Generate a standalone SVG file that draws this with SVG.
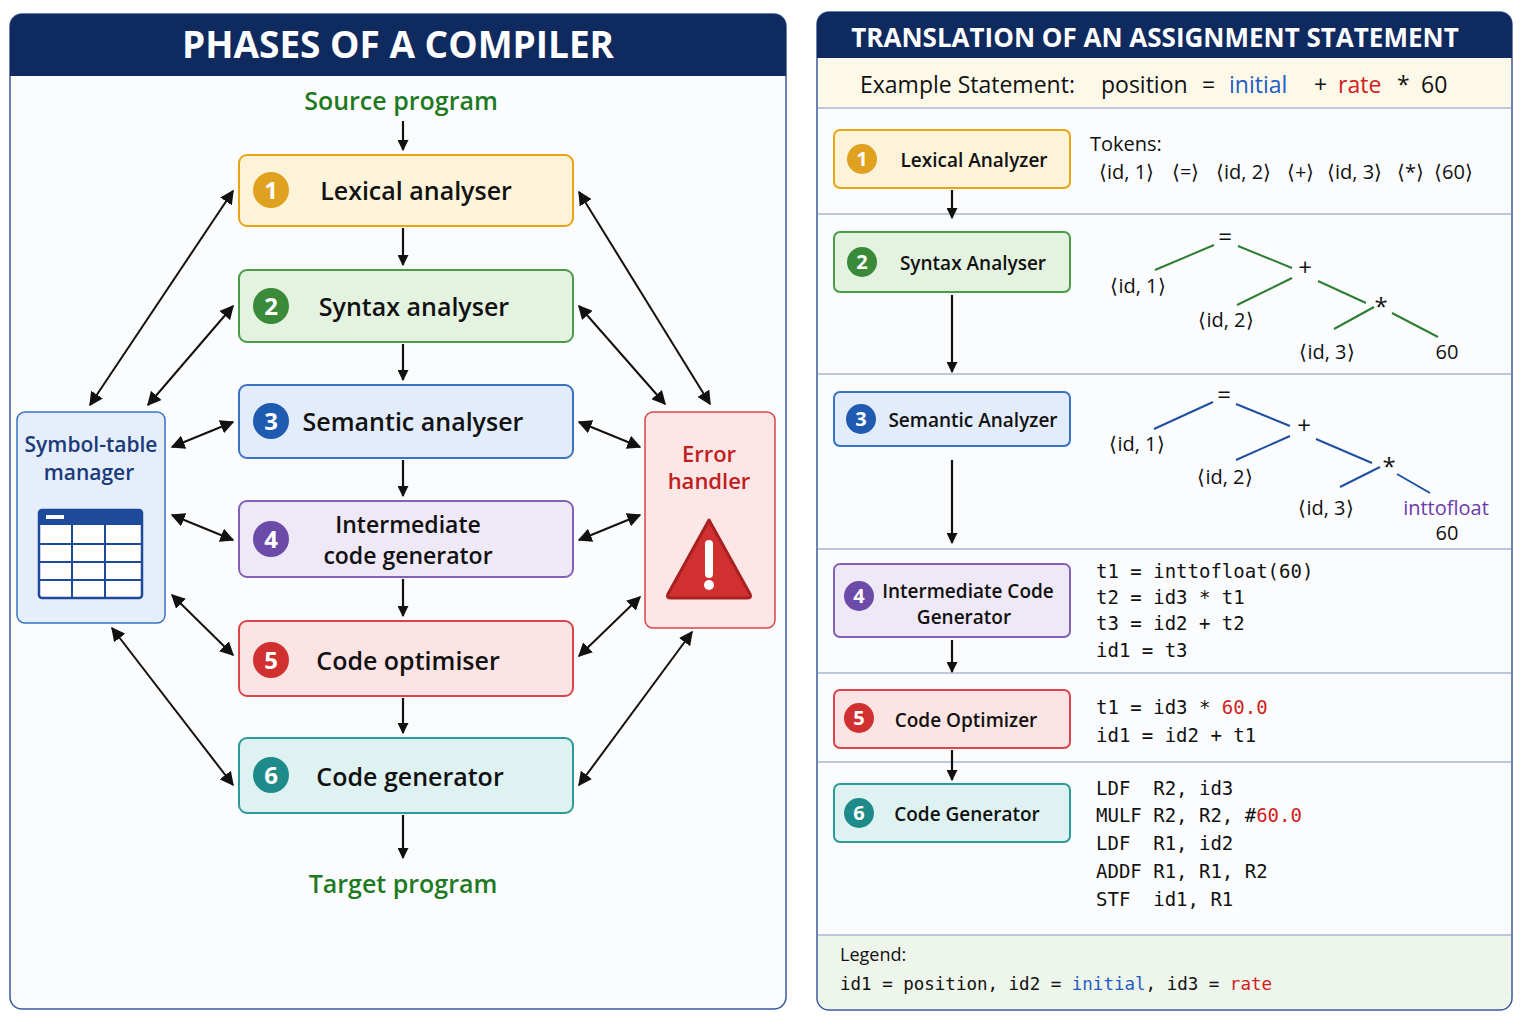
<svg xmlns="http://www.w3.org/2000/svg" width="1528" height="1029" viewBox="0 0 1528 1029">
<defs>
<marker id="ah" viewBox="0 0 10 10" refX="9" refY="5" markerWidth="7" markerHeight="7" orient="auto-start-reverse"><path d="M0,0 L10,5 L0,10 z" fill="#111"/></marker>
<marker id="ahb" viewBox="0 0 10 10" refX="9" refY="5" markerWidth="5" markerHeight="5" orient="auto"><path d="M0,0 L10,5 L0,10 z" fill="#111"/></marker>
<style>
text{font-family:"Open Sans","Noto Sans","Liberation Sans",sans-serif}
.t{font-size:25px;font-weight:600;fill:#111;text-anchor:middle}
.rt{font-size:19px;font-weight:600;fill:#111;text-anchor:middle}
.num{font-size:24px;font-weight:700;fill:#fff;text-anchor:middle}
.numr{font-size:20px;font-weight:700;fill:#fff;text-anchor:middle}
.c{stroke:#111;stroke-width:2;fill:none;marker-start:url(#ah);marker-end:url(#ah)}
.d{stroke:#111;stroke-width:2.2;fill:none;marker-end:url(#ahb)}
.m{font-family:"DejaVu Sans Mono","Liberation Mono",monospace;font-size:19px;fill:#111}
.tr{font-size:20px;fill:#111}
.op{font-size:24px;fill:#111;text-anchor:middle}
.sep{stroke:#a9b8cf;stroke-width:1.5}
.g{stroke:#2e7d32;stroke-width:2}
.b{stroke:#1e4fa0;stroke-width:2}
</style>
</defs>
<rect width="1528" height="1029" fill="#fff"/>
<g id="left-panel">
<rect x="10" y="14" width="776" height="995" rx="12" fill="#fbfcfe" stroke="#3a5a9a" stroke-width="1.5"/>
<path d="M10,76 V26 a12,12 0 0 1 12,-12 H774 a12,12 0 0 1 12,12 V76 z" fill="#0f2a5e"/>
<text x="398" y="58" text-anchor="middle" font-size="37" font-weight="700" fill="#fff">PHASES OF A COMPILER</text>
<text x="401" y="110" text-anchor="middle" font-size="25" font-weight="600" fill="#1f7a1f">Source program</text>
<text x="403" y="893" text-anchor="middle" font-size="25" font-weight="600" fill="#1f7a1f">Target program</text>
</g>
<g id="p1"><rect x="239" y="155" width="334" height="71" rx="8" fill="#fdf3d9" stroke="#e8a317" stroke-width="2"/><circle cx="271" cy="190" r="18" fill="#e0a020"/><text class="num" x="271" y="199">1</text><text class="t" x="416" y="200">Lexical analyser</text></g>
<g id="p2"><rect x="239" y="270" width="334" height="72" rx="8" fill="#e4f2e0" stroke="#4a9a48" stroke-width="2"/><circle cx="271" cy="306" r="18" fill="#3a8a3a"/><text class="num" x="271" y="315">2</text><text class="t" x="414" y="316">Syntax analyser</text></g>
<g id="p3"><rect x="239" y="385" width="334" height="73" rx="8" fill="#e2ecfa" stroke="#3a72c4" stroke-width="2"/><circle cx="271" cy="421" r="18" fill="#1f5bb0"/><text class="num" x="271" y="430">3</text><text class="t" x="413" y="431">Semantic analyser</text></g>
<g id="p4"><rect x="239" y="501" width="334" height="76" rx="8" fill="#eee8f7" stroke="#8461b8" stroke-width="2"/><circle cx="271" cy="539" r="18" fill="#6b4aa8"/><text class="num" x="271" y="548">4</text><text class="t" x="408" y="533" style="font-size:23px">Intermediate</text><text class="t" x="408" y="564" style="font-size:23px">code generator</text></g>
<g id="p5"><rect x="239" y="621" width="334" height="75" rx="8" fill="#fde4e4" stroke="#d9454a" stroke-width="2"/><circle cx="271" cy="660" r="18" fill="#d03030"/><text class="num" x="271" y="669">5</text><text class="t" x="408" y="670">Code optimiser</text></g>
<g id="p6"><rect x="239" y="738" width="334" height="75" rx="8" fill="#def2f2" stroke="#2a9a9a" stroke-width="2"/><circle cx="271" cy="775" r="18" fill="#1f8a8a"/><text class="num" x="271" y="784">6</text><text class="t" x="410" y="786">Code generator</text></g>
<g id="symtab">
<rect x="17" y="412" width="148" height="211" rx="8" fill="#e6eefb" stroke="#3a72c4" stroke-width="1.5"/>
<text x="91" y="452" text-anchor="middle" font-size="21" font-weight="600" fill="#1a3a7a">Symbol-table</text>
<text x="89" y="480" text-anchor="middle" font-size="21" font-weight="600" fill="#1a3a7a">manager</text>
<rect x="39" y="510" width="103" height="88" rx="3" fill="#fff" stroke="#1e4a9a" stroke-width="2.5"/>
<rect x="39" y="510" width="103" height="15" fill="#1e4a9a"/><rect x="46" y="515" width="18" height="4" fill="#fff"/>
<path d="M39,544 H142 M39,562 H142 M39,580 H142 M72,525 V598 M105,525 V598" stroke="#1e4a9a" stroke-width="2"/>
</g>
<g id="errh">
<rect x="645" y="412" width="130" height="216" rx="8" fill="#fde6e6" stroke="#d9454a" stroke-width="1.5"/>
<text x="709" y="462" text-anchor="middle" font-size="22" font-weight="600" fill="#c02020">Error</text>
<text x="709" y="489" text-anchor="middle" font-size="22" font-weight="600" fill="#c02020">handler</text>
<path d="M709,520 L750,594 Q752,598 747,598 H671 Q666,598 668,594 z" fill="#d0302f" stroke="#a82020" stroke-width="3" stroke-linejoin="round"/>
<rect x="705" y="540" width="8" height="38" rx="4" fill="#fff"/><circle cx="709" cy="585" r="5" fill="#fff"/>
</g>
<g id="left-connectors">
<path class="d" d="M403,121 V150"/><path class="d" d="M403,228 V265"/><path class="d" d="M403,344 V380"/><path class="d" d="M403,460 V496"/><path class="d" d="M403,579 V616"/><path class="d" d="M403,698 V733"/><path class="d" d="M403,815 V858"/>
<path class="c" d="M90,405 L233,191"/><path class="c" d="M148,405 L233,306"/><path class="c" d="M172,447 L233,422"/><path class="c" d="M172,515 L233,540"/><path class="c" d="M172,595 L233,655"/><path class="c" d="M112,628 L233,785"/>
<path class="c" d="M579,192 L710,404"/><path class="c" d="M579,306 L665,404"/><path class="c" d="M579,422 L640,447"/><path class="c" d="M579,540 L640,515"/><path class="c" d="M579,656 L640,597"/><path class="c" d="M579,785 L692,632"/>
</g>
<g id="right-panel">
<rect x="817" y="12" width="695" height="998" rx="12" fill="#fbfcfe" stroke="#3a5a9a" stroke-width="1.5"/>
<rect x="818" y="58" width="693" height="50" fill="#fdf9e8"/>
<path d="M818,936 H1511 V998 a11,11 0 0 1 -11,11 H829 a11,11 0 0 1 -11,-11 z" fill="#eef5ea"/>
<path d="M817,58 V24 a12,12 0 0 1 12,-12 H1500 a12,12 0 0 1 12,12 V58 z" fill="#0f2a5e"/>
<text x="1155" y="47" text-anchor="middle" font-size="26" font-weight="700" fill="#fff">TRANSLATION OF AN ASSIGNMENT STATEMENT</text>
<text y="93" font-size="23" fill="#111"><tspan x="860">Example Statement:</tspan><tspan x="1101">position</tspan><tspan x="1202">=</tspan><tspan x="1229" fill="#1e5bc6">initial</tspan><tspan x="1314">+</tspan><tspan x="1338" fill="#d02020">rate</tspan><tspan x="1397">*</tspan><tspan x="1421">60</tspan></text>
<path class="sep" d="M818,108 H1511 M818,214 H1511 M818,374 H1511 M818,549 H1511 M818,673 H1511 M818,762 H1511 M818,935 H1511"/>
<text x="1090" y="151" font-size="20" fill="#111">Tokens:</text>
<text y="179" class="tr"><tspan x="1099">⟨id, 1⟩</tspan><tspan x="1172">⟨=⟩</tspan><tspan x="1216">⟨id, 2⟩</tspan><tspan x="1287">⟨+⟩</tspan><tspan x="1327">⟨id, 3⟩</tspan><tspan x="1397">⟨*⟩</tspan><tspan x="1434">⟨60⟩</tspan></text>
<text x="1225" y="245" class="op">=</text>
<path class="g" d="M1214,245 L1155,270 M1238,246 L1292,268 M1292,278 L1237,305 M1318,281 L1366,303 M1374,307 L1334,329 M1392,313 L1438,337"/>
<text x="1305" y="276" class="op">+</text>
<text x="1381" y="315" class="op">*</text>
<text x="1138" y="293" class="tr" text-anchor="middle">⟨id, 1⟩</text>
<text x="1226" y="327" class="tr" text-anchor="middle">⟨id, 2⟩</text>
<text x="1327" y="359" class="tr" text-anchor="middle">⟨id, 3⟩</text>
<text x="1447" y="359" class="tr" text-anchor="middle">60</text>
<text x="1224" y="403" class="op">=</text>
<path class="b" d="M1213,402 L1154,429 M1236,404 L1290,426 M1290,436 L1236,460 M1316,439 L1372,463 M1380,467 L1340,487 M1397,474 L1430,493"/>
<text x="1304" y="434" class="op">+</text>
<text x="1389" y="475" class="op">*</text>
<text x="1137" y="451" class="tr" text-anchor="middle">⟨id, 1⟩</text>
<text x="1225" y="484" class="tr" text-anchor="middle">⟨id, 2⟩</text>
<text x="1326" y="515" class="tr" text-anchor="middle">⟨id, 3⟩</text>
<text x="1446" y="515" font-size="20" text-anchor="middle" style="fill:#6a3aa8">inttofloat</text>
<text x="1447" y="540" class="tr" text-anchor="middle">60</text>
<text class="m" x="1096" y="578">t1 = inttofloat(60)</text>
<text class="m" x="1096" y="604">t2 = id3 * t1</text>
<text class="m" x="1096" y="630">t3 = id2 + t2</text>
<text class="m" x="1096" y="657">id1 = t3</text>
<text class="m" x="1096" y="714">t1 = id3 * <tspan fill="#d02020">60.0</tspan></text>
<text class="m" x="1096" y="742">id1 = id2 + t1</text>
<text class="m" x="1096" y="795" xml:space="preserve">LDF  R2, id3</text>
<text class="m" x="1096" y="822" xml:space="preserve">MULF R2, R2, #<tspan fill="#d02020">60.0</tspan></text>
<text class="m" x="1096" y="850" xml:space="preserve">LDF  R1, id2</text>
<text class="m" x="1096" y="878" xml:space="preserve">ADDF R1, R1, R2</text>
<text class="m" x="1096" y="906" xml:space="preserve">STF  id1, R1</text>
<text x="840" y="961" font-size="18" fill="#111">Legend:</text>
<text class="m" x="840" y="990" style="font-size:17.5px">id1 = position, id2 = <tspan fill="#1e5bc6">initial</tspan>, id3 = <tspan fill="#d02020">rate</tspan></text>
</g>
<g id="r1"><rect x="834" y="130" width="236" height="58" rx="6" fill="#fdf3d9" stroke="#e8a317" stroke-width="2"/><circle cx="862" cy="159" r="15" fill="#e0a020"/><text class="numr" x="862" y="166">1</text><text class="rt" x="974" y="167">Lexical Analyzer</text></g>
<g id="r2"><rect x="834" y="232" width="236" height="60" rx="6" fill="#e4f2e0" stroke="#4a9a48" stroke-width="2"/><circle cx="862" cy="262" r="15" fill="#3a8a3a"/><text class="numr" x="862" y="269">2</text><text class="rt" x="973" y="270">Syntax Analyser</text></g>
<g id="r3"><rect x="834" y="392" width="236" height="54" rx="6" fill="#e2ecfa" stroke="#3a72c4" stroke-width="2"/><circle cx="861" cy="419" r="15" fill="#1f5bb0"/><text class="numr" x="861" y="426">3</text><text class="rt" x="973" y="427" font-size="18">Semantic Analyzer</text></g>
<g id="r4"><rect x="834" y="564" width="236" height="73" rx="6" fill="#eee8f7" stroke="#8461b8" stroke-width="2"/><circle cx="859" cy="596" r="15" fill="#6b4aa8"/><text class="numr" x="859" y="603">4</text><text class="rt" x="968" y="598" font-size="18">Intermediate Code</text><text class="rt" x="964" y="624" font-size="18">Generator</text></g>
<g id="r5"><rect x="834" y="690" width="236" height="58" rx="6" fill="#fde4e4" stroke="#d9454a" stroke-width="2"/><circle cx="859" cy="718" r="15" fill="#d03030"/><text class="numr" x="859" y="725">5</text><text class="rt" x="966" y="727">Code Optimizer</text></g>
<g id="r6"><rect x="834" y="784" width="236" height="58" rx="6" fill="#def2f2" stroke="#2a9a9a" stroke-width="2"/><circle cx="859" cy="813" r="15" fill="#1f8a8a"/><text class="numr" x="859" y="820">6</text><text class="rt" x="967" y="821">Code Generator</text></g>
<g id="right-connectors">
<path class="d" d="M952,190 V218"/><path class="d" d="M952,295 V372"/><path class="d" d="M952,460 V543"/><path class="d" d="M952,640 V672"/><path class="d" d="M952,750 V780"/>
</g>
</svg>
